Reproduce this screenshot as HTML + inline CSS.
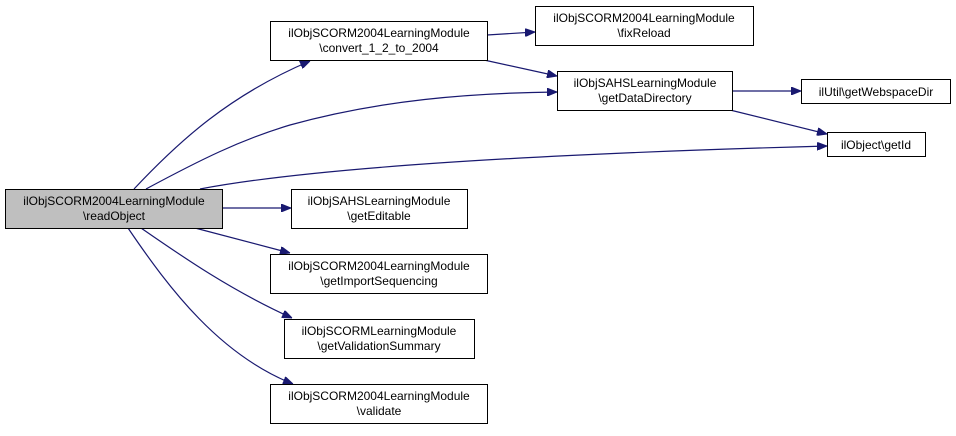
<!DOCTYPE html>
<html><head><meta charset="utf-8"><style>
body{margin:0;background:#fff}
svg text{font-family:"Liberation Sans",sans-serif;font-size:12px;fill:#000}
</style></head><body>
<svg width="956" height="431" xmlns="http://www.w3.org/2000/svg">
<defs><marker id="a" markerWidth="10" markerHeight="8" refX="10" refY="4" orient="auto" markerUnits="userSpaceOnUse"><path d="M0,0 L10,4 L0,8 Z" fill="#191970" stroke="#191970"/></marker></defs>
<g fill="none" stroke="#191970" stroke-width="1.2" marker-end="url(#a)">
<path d="M134,189 C180,140 230,95 310,61"/>
<path d="M146,189 C200,160 240,140 290,125 C380,100 470,93 557,92"/>
<path d="M200,189 C300,170 500,155 827,146"/>
<path d="M222,208 L291,208"/>
<path d="M195,228 L290,253"/>
<path d="M141,228 C180,255 230,290 292,318"/>
<path d="M128,228 C170,290 220,355 293,384"/>
<path d="M487,35 L535,32"/>
<path d="M484,60 L557,76"/>
<path d="M732,91 L801,91"/>
<path d="M730,110 L827,134"/>
</g>
<g stroke="#000" stroke-width="1" fill="#fff">
<rect x="5.5" y="189.5" width="217" height="39" fill="#bfbfbf"/>
<rect x="270.5" y="21.5" width="217" height="39"/>
<rect x="291.5" y="189.5" width="176" height="39"/>
<rect x="270.5" y="254.5" width="217" height="39"/>
<rect x="284.5" y="319.5" width="190" height="39"/>
<rect x="270.5" y="384.5" width="217" height="39"/>
<rect x="535.5" y="6.5" width="218" height="39"/>
<rect x="557.5" y="71.5" width="175" height="39"/>
<rect x="801.5" y="79.5" width="149" height="24"/>
<rect x="827.5" y="132.5" width="98" height="24"/>
</g>
<g text-anchor="middle">
<text x="114" y="205">ilObjSCORM2004LearningModule</text><text x="114" y="220">\readObject</text>
<text x="379" y="37">ilObjSCORM2004LearningModule</text><text x="379" y="52">\convert_1_2_to_2004</text>
<text x="379" y="205">ilObjSAHSLearningModule</text><text x="379" y="220">\getEditable</text>
<text x="379" y="270">ilObjSCORM2004LearningModule</text><text x="379" y="285">\getImportSequencing</text>
<text x="379" y="335">ilObjSCORMLearningModule</text><text x="379" y="350">\getValidationSummary</text>
<text x="379" y="400">ilObjSCORM2004LearningModule</text><text x="379" y="415">\validate</text>
<text x="644" y="22">ilObjSCORM2004LearningModule</text><text x="644" y="37">\fixReload</text>
<text x="645" y="87">ilObjSAHSLearningModule</text><text x="645" y="102">\getDataDirectory</text>
<text x="876" y="96">ilUtil\getWebspaceDir</text>
<text x="876" y="149">ilObject\getId</text>
</g>
</svg>
</body></html>
